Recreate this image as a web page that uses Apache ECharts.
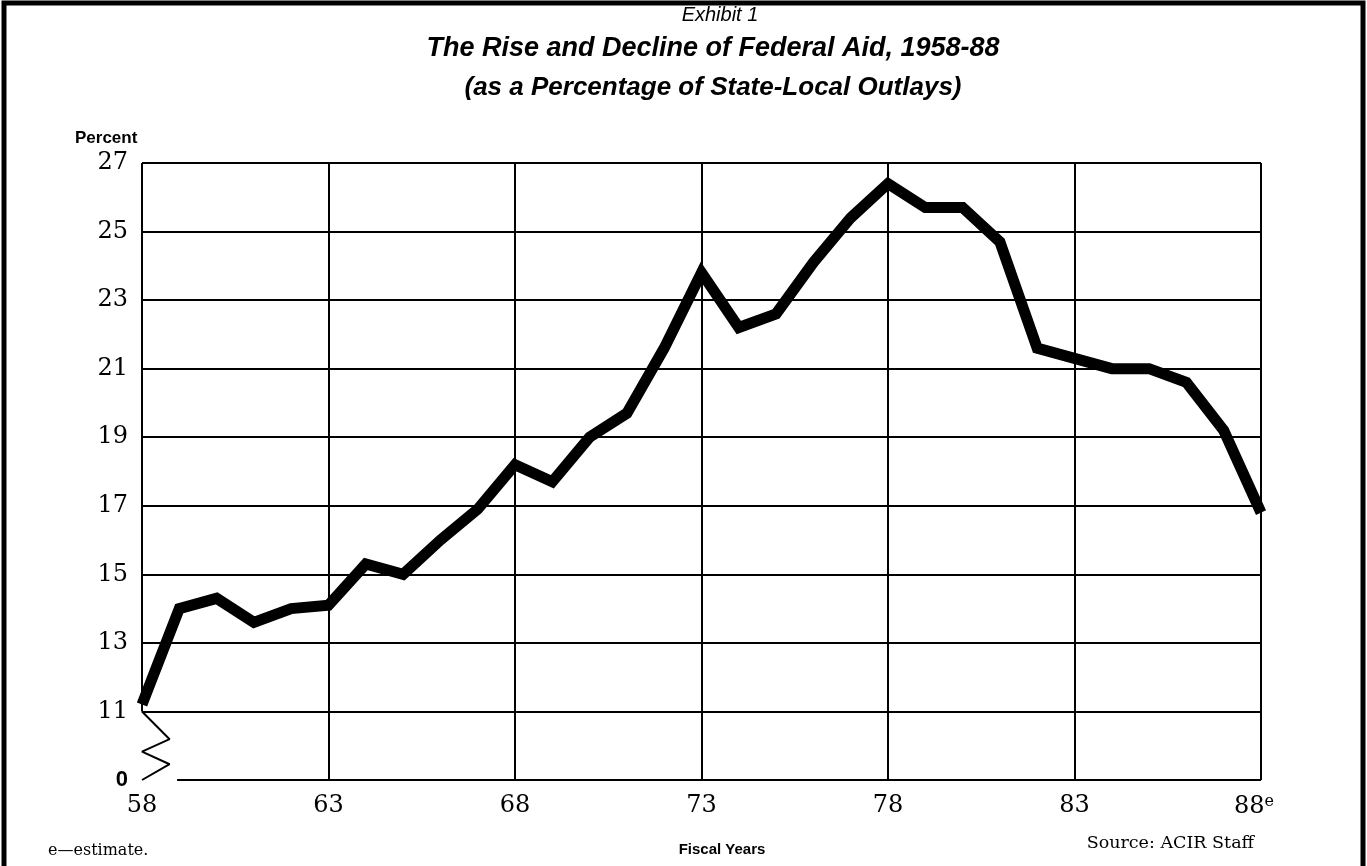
<!DOCTYPE html>
<html>
<head>
<meta charset="utf-8">
<script src="https://cdn.jsdelivr.net/npm/echarts@6/dist/echarts.min.js"></script>
<style>
  html, body { margin: 0; padding: 0; background: #fff; }
  #main { width: 1367px; height: 866px; }
</style>
</head>
<body>
<div id="main"></div>
<script>
let chartDom = document.getElementById('main');
let myChart = echarts.init(chartDom);

// fiscal years 1958-1988 (two-digit)
let years = [58, 59, 60, 61, 62, 63, 64, 65, 66, 67, 68, 69, 70, 71, 72, 73,
    74, 75, 76, 77, 78, 79, 80, 81, 82, 83, 84, 85, 86, 87, 88];
// federal aid as % of state-local outlays
let aidPct = [11.2, 14.0, 14.3, 13.6, 14.0, 14.1, 15.3, 15.0, 16.0, 16.9, 18.2, 17.7, 19.0, 19.7, 21.6, 23.8,
    22.2, 22.6, 24.1, 25.4, 26.4, 25.7, 25.7, 24.7, 21.6, 21.3, 21.0, 21.0, 20.6, 19.2, 16.8];

let xTicks = [58, 63, 68, 73, 78, 83, 88];
let yTicks = [9, 11, 13, 15, 17, 19, 21, 23, 25, 27];
// axis break (zigzag) below 11, bottom tick stands for 0
let breakX = [58, 58.74, 58, 58.74, 58];
let breakY = [11, 10.19, 9.83, 9.46, 9];
let bottomStart = 58.94;

let lineData = years.map((y, i) => [y, aidPct[i]]);
let breakData = breakX.map((x, i) => [x, breakY[i]]);

// grid lines built from the ticks
let gridLines = [];
yTicks.filter(v => v >= 11).forEach(v => {
    gridLines.push([{ coord: [58, v] }, { coord: [88, v] }]);
});
xTicks.filter(v => v > 58).forEach(v => {
    gridLines.push([{ coord: [v, 9] }, { coord: [v, 27] }]);
});
gridLines.push([{ coord: [58, 11] }, { coord: [58, 27] }]);
gridLines.push([{ coord: [bottomStart, 9] }, { coord: [88, 9] }]);

let serif = '"DejaVu Serif", "Liberation Serif", serif';
let sans = '"Liberation Sans", Arial, sans-serif';

option = {
    animation: false,
    backgroundColor: '#fff',
    grid: { left: 142, right: 106, top: 163, bottom: 86 },
    xAxis: {
        type: 'value',
        min: 58,
        max: 88,
        interval: 5,
        axisLine: { show: false },
        axisTick: { show: false },
        splitLine: { show: false },
        axisLabel: {
            margin: 14,
            color: '#000',
            fontFamily: serif,
            fontSize: 24,
            formatter: v => v === 88 ? '88{e|e}' : String(v),
            rich: {
                e: { fontFamily: serif, fontSize: 16, color: '#000', verticalAlign: 'top', padding: [0, 14, 10, 0] }
            }
        }
    },
    yAxis: {
        type: 'value',
        min: 9,
        max: 27,
        interval: 2,
        axisLine: { show: false },
        axisTick: { show: false },
        splitLine: { show: false },
        axisLabel: {
            margin: 14,
            color: '#000',
            fontFamily: serif,
            fontSize: 24,
            formatter: v => v === 9 ? '{z|0}' : String(v),
            rich: {
                z: { fontFamily: sans, fontWeight: 'bold', fontSize: 22, color: '#000' }
            }
        }
    },
    graphic: [
        { type: 'rect', shape: { x: 4, y: 3, width: 1359, height: 900 }, style: { fill: 'none', stroke: '#000', lineWidth: 5 } },
        { type: 'text', x: 720, y: 15, style: { text: 'Exhibit 1', font: 'italic 20px ' + sans, fill: '#000', textAlign: 'center', textVerticalAlign: 'middle' } },
        { type: 'text', x: 713, y: 49, style: { text: 'The Rise and Decline of Federal Aid, 1958-88', font: 'italic bold 27px ' + sans, fill: '#000', textAlign: 'center', textVerticalAlign: 'middle' } },
        { type: 'text', x: 713, y: 88, style: { text: '(as a Percentage of State-Local Outlays)', font: 'italic bold 26px ' + sans, fill: '#000', textAlign: 'center', textVerticalAlign: 'middle' } },
        { type: 'text', x: 75, y: 138, style: { text: 'Percent', font: 'bold 17px ' + sans, fill: '#000', textAlign: 'left', textVerticalAlign: 'middle' } },
        { type: 'text', x: 48, y: 851, style: { text: 'e\u2014estimate.', font: '16px ' + serif, fill: '#000', textAlign: 'left', textVerticalAlign: 'middle' } },
        { type: 'text', x: 722, y: 850, style: { text: 'Fiscal Years', font: 'bold 15px ' + sans, fill: '#000', textAlign: 'center', textVerticalAlign: 'middle' } },
        { type: 'text', x: 1254, y: 843, style: { text: 'Source: ACIR Staff', font: '17.5px ' + serif, fill: '#000', textAlign: 'right', textVerticalAlign: 'middle' } }
    ],
    series: [
        {
            type: 'line',
            data: [],
            z: 1,
            markLine: {
                silent: true,
                symbol: ['none', 'none'],
                label: { show: false },
                lineStyle: { color: '#000', width: 2, type: 'solid' },
                data: gridLines
            }
        },
        {
            type: 'line',
            data: breakData,
            z: 2,
            clip: false,
            showSymbol: false,
            lineStyle: { color: '#000', width: 2 }
        },
        {
            type: 'line',
            data: lineData,
            z: 3,
            showSymbol: false,
            lineStyle: { color: '#000', width: 11, join: 'miter', cap: 'butt' }
        }
    ]
};

option && myChart.setOption(option);
</script>
</body>
</html>
